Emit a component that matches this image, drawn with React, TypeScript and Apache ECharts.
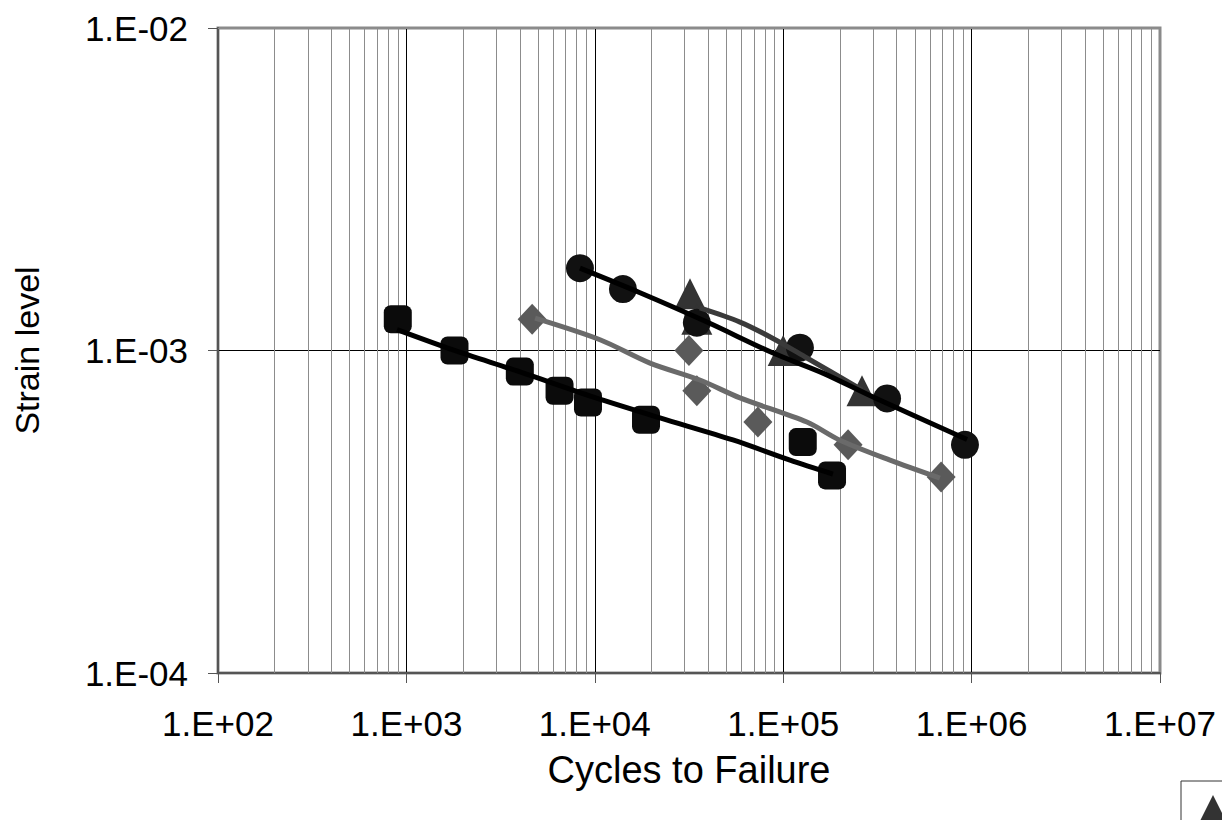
import React, { useEffect, useRef } from "react";
import * as echarts from "echarts";

// Data points (cycles to failure, strain level)
const squareX = [900, 1800, 4000, 6500, 9200, 18700, 127000, 181600];
const squareY = [1.25e-3, 1.0e-3, 8.6e-4, 7.5e-4, 6.9e-4, 6.1e-4, 5.2e-4, 4.1e-4];
const diamondX = [4650, 31600, 34800, 73400, 221000, 689000];
const diamondY = [1.25e-3, 1.0e-3, 7.5e-4, 6.0e-4, 5.1e-4, 4.05e-4];
const circleX = [8340, 14100, 34800, 122700, 356000, 922000];
const circleY = [1.8e-3, 1.55e-3, 1.22e-3, 1.02e-3, 7.1e-4, 5.1e-4];
const triangleX = [32000, 34800, 100000, 262000];
const triangleY = [1.5e-3, 1.25e-3, 1.0e-3, 7.5e-4];

// Trend lines
const squareTrendX = [891, 1766, 4010, 9770, 22180, 54100, 108700, 183600];
const squareTrendY = [1.16e-3, 1.004e-3, 8.58e-4, 7.18e-4, 6.18e-4, 5.28e-4, 4.57e-4, 4.14e-4];
const diamondTrendX = [4820, 10660, 19640, 36100, 59000, 133600, 200000, 369000, 679000];
const diamondTrendY = [1.26e-3, 1.08e-3, 9.14e-4, 8.1e-4, 7.13e-4, 6.0e-4, 5.27e-4, 4.57e-4, 4.02e-4];
const circleTrendX = [8340, 17380, 39400, 88300, 162600, 300000, 946000];
const circleTrendY = [1.8e-3, 1.51e-3, 1.225e-3, 9.82e-4, 8.51e-4, 7.17e-4, 5.3e-4];
const triangleTrendX = [36100, 59000, 88300, 133600, 262000];
const triangleTrendY = [1.355e-3, 1.225e-3, 1.09e-3, 9.48e-4, 7.55e-4];

// Axis structure
const xDecades = [100, 1000, 10000, 100000, 1000000];
const yDecades = [1e-4, 1e-3];
const minorMultipliers = [2, 3, 4, 5, 6, 7, 8, 9];

const pairs = (xs: number[], ys: number[]) => xs.map((x, i) => [x, ys[i]]);

const fmt = (v: number) => {
  const e = Math.round(Math.log10(v));
  return `1.E${e < 0 ? "-" : "+"}${String(Math.abs(e)).padStart(2, "0")}`;
};

const FONT = "'Liberation Sans', Arial, sans-serif";

export default function App() {
  const ref = useRef<HTMLDivElement>(null);
  useEffect(() => {
    if (!ref.current) return;
    const chart = echarts.init(ref.current, undefined, { renderer: "svg" });
    const minorX: any[] = [];
    xDecades.forEach((d) => minorMultipliers.forEach((m) => minorX.push({ xAxis: d * m })));
    const minorY: any[] = [];
    yDecades.forEach((d) => minorMultipliers.forEach((m) => minorY.push({ yAxis: d * m })));

    const scatter = (name: string, xs: number[], ys: number[], symbol: string, size: any, color: string) => ({
      name,
      type: "scatter",
      data: pairs(xs, ys),
      symbol,
      symbolSize: size,
      itemStyle: { color, opacity: 1 },
      z: 3,
      silent: true,
    });
    const trend = (xs: number[], ys: number[], color: string) => ({
      type: "line",
      data: pairs(xs, ys),
      smooth: 0.3,
      showSymbol: false,
      symbol: "none",
      lineStyle: { color, width: 5 },
      z: 4,
      silent: true,
    });

    chart.setOption({
      animation: false,
      backgroundColor: "#fff",
      textStyle: { fontFamily: FONT },
      grid: {
        left: 218,
        top: 28,
        right: 62,
        bottom: 147,
        show: true,
        borderColor: "#8a8a8a",
        borderWidth: 3,
        backgroundColor: "transparent",
      },
      legend: {
        left: 1181,
        top: 781,
        orient: "vertical",
        padding: [14, 10, 5, 16],
        itemWidth: 32,
        itemHeight: 32,
        borderColor: "#333",
        borderWidth: 1,
        formatter: () => "",
        data: [{ name: "Triangles", icon: "triangle" }],
      },
      xAxis: {
        type: "log",
        logBase: 10,
        min: 100,
        max: 1e7,
        name: "Cycles to Failure",
        nameLocation: "middle",
        nameGap: 78,
        nameTextStyle: { fontSize: 38, color: "#000", fontFamily: FONT },
        axisLine: { show: true, lineStyle: { color: "#555", width: 2 } },
        axisTick: { show: true, length: 10, lineStyle: { color: "#555", width: 1 } },
        axisLabel: { formatter: fmt, fontSize: 35, color: "#000", margin: 33, fontFamily: FONT },
        splitLine: { show: true, showMinLine: false, showMaxLine: false, lineStyle: { color: "#000", width: 1 } },
      },
      yAxis: {
        type: "log",
        logBase: 10,
        min: 1e-4,
        max: 1e-2,
        name: "Strain level",
        nameLocation: "middle",
        nameGap: 174,
        nameTextStyle: { fontSize: 34, color: "#000", fontFamily: FONT },
        axisLine: { show: true, lineStyle: { color: "#555", width: 2 } },
        axisTick: { show: true, length: 10, lineStyle: { color: "#555", width: 1 } },
        axisLabel: { formatter: fmt, fontSize: 35, color: "#000", margin: 30, fontFamily: FONT },
        splitLine: { show: true, showMinLine: false, showMaxLine: false, lineStyle: { color: "#000", width: 1 } },
      },
      series: [
        {
          type: "scatter",
          data: [],
          z: 1,
          silent: true,
          markLine: {
            silent: true,
            z: 1,
            symbol: ["none", "none"],
            label: { show: false },
            lineStyle: { color: "#8c8c8c", width: 1, type: "solid" },
            emphasis: { disabled: true },
            animation: false,
            data: [...minorX, ...minorY],
          },
        },
        scatter("Squares", squareX, squareY, "roundRect", 28, "#0b0b0b"),
        scatter("Diamonds", diamondX, diamondY, "diamond", [29, 31], "#5a5a5a"),
        scatter("Triangles", triangleX, triangleY, "triangle", [31, 31], "#333333"),
        scatter("Circles", circleX, circleY, "circle", 28, "#111111"),
        trend(squareTrendX, squareTrendY, "#000"),
        trend(diamondTrendX, diamondTrendY, "#6a6a6a"),
        trend(triangleTrendX, triangleTrendY, "#3a3a3a"),
        trend(circleTrendX, circleTrendY, "#000"),
      ],
    });
    return () => chart.dispose();
  }, []);
  return (
    <div
      ref={ref}
      style={{ position: "absolute", left: 0, top: 0, width: 1222, height: 820 }}
    />
  );
}
